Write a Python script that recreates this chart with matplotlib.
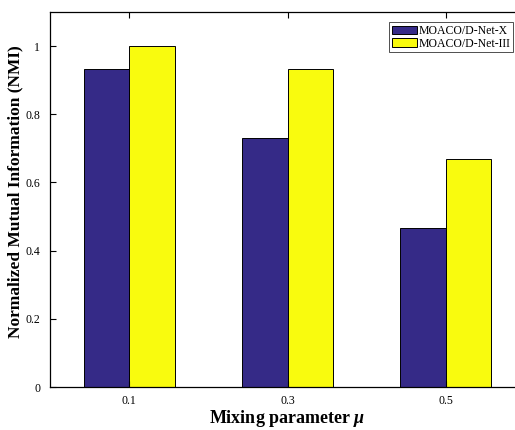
import matplotlib
matplotlib.use("Agg")
import matplotlib.pyplot as plt
import numpy as np

plt.rcParams['font.family'] = ['Liberation Serif', 'DejaVu Serif']
plt.rcParams['mathtext.fontset'] = 'custom'
plt.rcParams['mathtext.it'] = 'Liberation Serif:italic:bold'
plt.rcParams['mathtext.rm'] = 'Liberation Serif'

mu = [0.1, 0.3, 0.5]
tick_labels = ['0.1', '0.3', '0.5']
nmi_x = [0.932, 0.729, 0.466]
nmi_iii = [1.0, 0.934, 0.669]
series_names = ['MOACO/D-Net-X', 'MOACO/D-Net-III']

fig = plt.figure(figsize=(5.15, 4.3), dpi=100)
ax = fig.add_axes([50 / 515, 43 / 430, 475 / 515, 375 / 430])

w = 0.0575
x = np.array(mu)
ax.bar(x - w / 2, nmi_x, w, color='#352A87', edgecolor='black', linewidth=0.7,
       label=series_names[0])
ax.bar(x + w / 2, nmi_iii, w, color='#F9FB0E', edgecolor='black', linewidth=0.7,
       label=series_names[1])

ax.set_xlim(0.0, 0.6)
ax.set_ylim(0, 1.1)
ax.set_xticks(mu)
ax.set_xticklabels(tick_labels)
ax.set_yticks([0, 0.2, 0.4, 0.6, 0.8, 1.0])
ax.set_yticklabels(['0', '0.2', '0.4', '0.6', '0.8', '1'])
ax.tick_params(direction='in', top=True, right=True, labelsize=8.5, length=4,
               width=0.8)
ax.tick_params(axis='y', pad=7)
ax.tick_params(axis='x', pad=6)
for s in ax.spines.values():
    s.set_linewidth(0.9)

ax.set_xlabel(r'Mixing parameter $\mu$', fontsize=13, fontweight='bold')
ax.xaxis.set_label_coords(0.5, -0.057)
ax.set_ylabel('Normalized Mutual Information (NMI)', fontsize=12.5, fontweight='bold')
ax.yaxis.set_label_coords(-0.056, 0.52)

leg = fig.legend(loc='upper left', bbox_to_anchor=(389 / 515, 1 - 22 / 430),
                 fontsize=8.5, frameon=True, fancybox=False, edgecolor='black',
                 borderpad=0.25, handlelength=2.1, handleheight=0.7,
                 handletextpad=0.15, labelspacing=0.05, borderaxespad=0)
leg.get_frame().set_linewidth(0.6)

fig.savefig('out.png', dpi=100)
